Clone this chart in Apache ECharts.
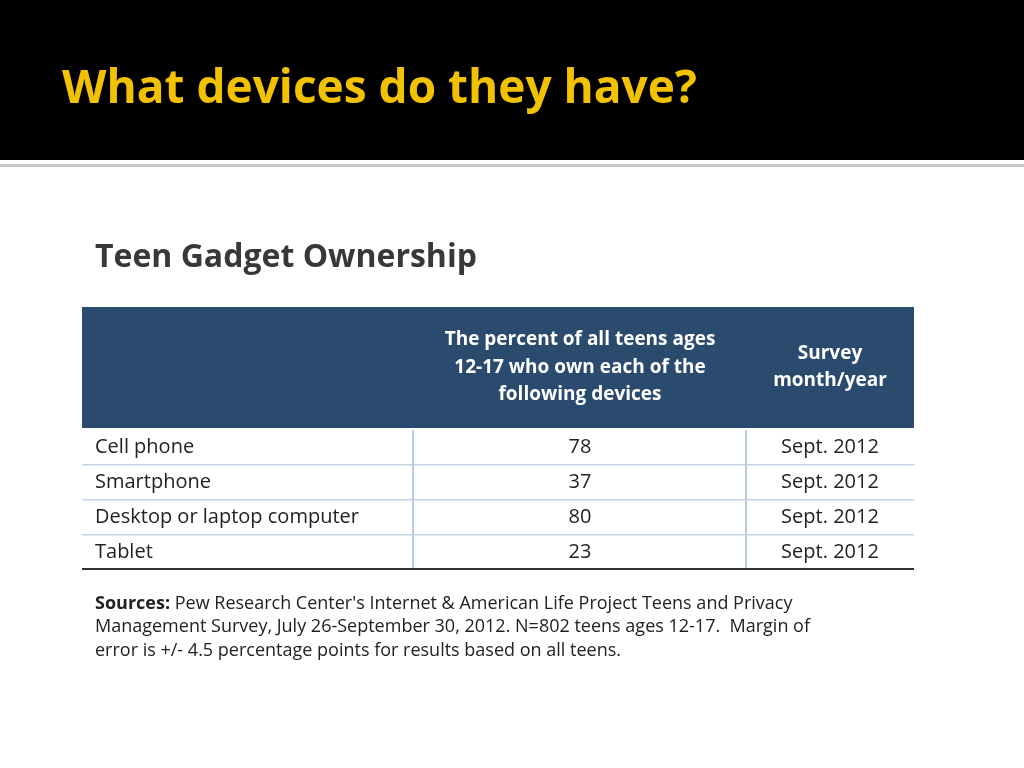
<!DOCTYPE html>
<html><head><meta charset="utf-8">
<script src="https://cdn.jsdelivr.net/npm/echarts@6/dist/echarts.min.js"></script>
<style>html,body{margin:0;padding:0;background:#fff}#c{width:1024px;height:768px}</style>
</head><body><div id="c"></div>
<script>
const devices = ['Cell phone', 'Smartphone', 'Desktop or laptop computer', 'Tablet'];
const percents = [78, 37, 80, 23];
const surveyDates = ['Sept. 2012', 'Sept. 2012', 'Sept. 2012', 'Sept. 2012'];
const headerCol2 = ['The percent of all teens ages', '12-17 who own each of the', 'following devices'];
const headerCol3 = ['Survey', 'month/year'];
const sourceLines = [
  "Management Survey, July 26-September 30, 2012. N=802 teens ages 12-17.  Margin of",
  "error is +/- 4.5 percentage points for results based on all teens."
];

const chart = echarts.init(document.getElementById('c'));
const F = '"Open Sans", "Noto Sans", sans-serif';
const graphics = [
  {type:'rect', shape:{x:0,y:0,width:1024,height:160}, style:{fill:'#000'}},
  {type:'rect', shape:{x:0,y:164,width:1024,height:3}, style:{fill:'#c8c8c8'}},
  {type:'text', x:62, y:90, style:{text:'What devices do they have?', fill:'#f2c200', font:'bold 46px '+F, verticalAlign:'middle'}},
  {type:'text', x:95, y:258, style:{text:'Teen Gadget Ownership', fill:'#383838', font:'bold 32px '+F, verticalAlign:'middle'}},
  {type:'rect', shape:{x:82,y:307,width:832,height:121}, style:{fill:'#2a4a6e'}},
  {type:'text', x:95, y:604, style:{rich:{b:{font:'bold 18px '+F, fill:'#222'}, n:{font:'18px '+F, fill:'#222'}}, text:"{b|Sources:}{n| Pew Research Center's Internet & American Life Project Teens and Privacy}", verticalAlign:'middle'}}
];
headerCol2.forEach((t,i)=>graphics.push({type:'text', x:580, y:340+i*27.5, style:{text:t, fill:'#fff', font:'bold 19px '+F, align:'center', verticalAlign:'middle'}}));
headerCol3.forEach((t,i)=>graphics.push({type:'text', x:830, y:354+i*27, style:{text:t, fill:'#fff', font:'bold 19px '+F, align:'center', verticalAlign:'middle'}}));
sourceLines.forEach((t,i)=>graphics.push({type:'text', x:95, y:627+i*24, style:{text:t, fill:'#222', font:'18px '+F, verticalAlign:'middle'}}));

chart.setOption({
  animation:false,
  graphic: graphics,
  grid:{left:82, width:832, top:430, height:140},
  xAxis:{type:'value', min:82, max:914, show:false},
  yAxis:{type:'category', data:devices, inverse:true, show:false},
  series:[{
    type:'custom',
    data: devices.map((d,i)=>[i]),
    encode:{y:0},
    renderItem:(params, api)=>{
      const i = api.value(0);
      const c = api.coord([82, i]);
      const h = api.size([0,1])[1];
      const top = c[1]-h/2, bot = c[1]+h/2;
      const x1 = api.coord([413,i])[0], x2 = api.coord([746,i])[0], xe = api.coord([914,i])[0];
      const last = i === devices.length-1;
      return {type:'group', children:[
        {type:'rect', shape:{x:x1-1,y:top,width:2,height:h}, style:{fill:'#b8cbe0'}},
        {type:'rect', shape:{x:x2-1,y:top,width:2,height:h}, style:{fill:'#b8cbe0'}},
        {type:'rect', shape:{x:c[0],y:bot-(last?2:1),width:xe-c[0],height:last?2:1.5}, style:{fill:last?'#333':'#c4d2e0'}},
        {type:'text', x:c[0]+13, y:c[1], style:{text:devices[i], fill:'#222', font:'20px '+F, verticalAlign:'middle'}},
        {type:'text', x:580, y:c[1], style:{text:String(percents[i]), fill:'#222', font:'20px '+F, align:'center', verticalAlign:'middle'}},
        {type:'text', x:830, y:c[1], style:{text:surveyDates[i], fill:'#222', font:'20px '+F, align:'center', verticalAlign:'middle'}}
      ]};
    }
  }]
});
</script></body></html>
